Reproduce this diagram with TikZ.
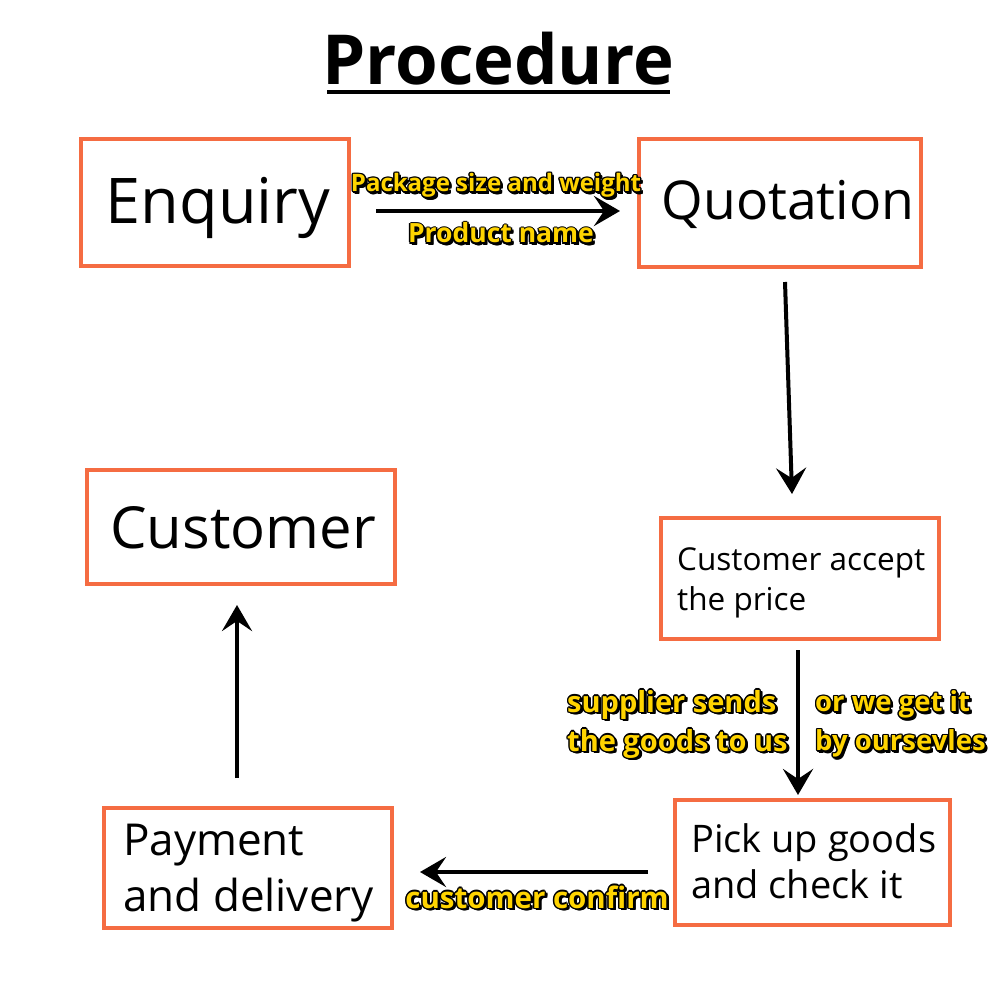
\documentclass[tikz,border=0pt]{standalone}
\usepackage{fontspec}
\setmainfont{Open Sans}
\usetikzlibrary{arrows.meta}
\definecolor{boxor}{RGB}{245,108,66}
\definecolor{ylw}{RGB}{255,212,0}
\newcommand\fsz[2]{\fontsize{#1}{#2}\selectfont}
\tikzset{
  box/.style={draw=boxor, line width=4pt, inner sep=0pt},
  txt/.style={inner sep=0pt, text=black},
  lbl/.style={inner sep=0pt, font=\bfseries\fsz{24}{38}},
  arr/.style={line width=4pt, -{Stealth[length=26pt,width=30pt,inset=10pt]}},
}
\newcommand\ylab[4]{%
  \foreach \dx/\dy [count=\k] in {-1.4/0,1.4/0,0/-1.4,0/1.4,-1/-1,1/1,-1/1,1/-1,2.2/-2.2,2.8/-1.6,1.6/-2.8,2.8/-2.8}
    {\node[lbl,#3,text=black,xshift=\dx pt,yshift=\dy pt] (#1s\k) at (#2) {#4};}
  \node[lbl,#3,text=ylw] (#1) at (#2) {#4};
}
\begin{document}
\begin{tikzpicture}[x=1pt,y=-1pt]
\useasboundingbox[fill=white] (0,0) rectangle (1000,1000);
% title
\node[txt,anchor=base,font=\bfseries\fsz{69}{80}] (title) at (498,85) {Procedure};
\coordinate (ulL) at (327,92);
\coordinate (ulR) at (670,92);
\draw[line width=4pt] (ulL) -- (ulR);
% boxes
\node[box,minimum width=268pt,minimum height=127pt] (enq) at (215,202.5) {};
\node[box,minimum width=282pt,minimum height=128pt] (quo) at (780,203) {};
\node[box,minimum width=308pt,minimum height=114pt] (cus) at (241,527) {};
\node[box,minimum width=278pt,minimum height=121pt] (acc) at (800,578.5) {};
\node[box,minimum width=275pt,minimum height=125pt] (pick) at (812.5,862.5) {};
\node[box,minimum width=288pt,minimum height=120pt] (pay) at (248,868) {};
% texts
\node[txt,anchor=base,font=\fsz{63}{70}] (enqT) at (218,223) {Enquiry};
\node[txt,anchor=base,font=\fsz{53.5}{60}] (quoT) at (788,220) {Quotation};
\node[txt,anchor=base,font=\fsz{58}{64}] (cusT) at (243,548) {Customer};
\node[txt,anchor=west,align=left,font=\fsz{31.5}{40}] (accT) at (677,583) {Customer accept\\the price};
\node[txt,anchor=west,align=left,font=\fsz{38}{46}] (pickT) at (691,861) {Pick up goods\\and check it};
\node[txt,anchor=west,align=left,font=\fsz{44}{56}] (payT) at (123,873) {Payment\\and delivery};
% connectors
\coordinate (a1s) at (376,211); \coordinate (a1e) at (620,211);
\coordinate (a2s) at (785,282); \coordinate (a2e) at (792,494);
\coordinate (a3s) at (798,650); \coordinate (a3e) at (798,795);
\coordinate (a4s) at (648,872); \coordinate (a4e) at (420,872);
\coordinate (a5s) at (237,778); \coordinate (a5e) at (237,605);
\draw[arr] (a1s) -- (a1e);
\draw[arr] (a2s) -- (a2e);
\draw[arr] (a3s) -- (a3e);
\draw[arr] (a4s) -- (a4e);
\draw[arr] (a5s) -- (a5e);
% labels
\ylab{l1}{496,192}{anchor=base}{Package size and weight}
\ylab{l2}{501,243}{anchor=base,font=\bfseries\fsz{26.5}{34}}{Product name}
\ylab{l3}{567,724}{anchor=west,align=left,font=\bfseries\fsz{29}{39}}{supplier sends\\the goods to us}
\ylab{l4}{815,724}{anchor=west,align=left,font=\bfseries\fsz{27.5}{39}}{or we get it\\by oursevles}
\ylab{l5}{537,908}{anchor=base,font=\bfseries\fsz{29.5}{34}}{customer confirm}
\end{tikzpicture}
\end{document}
